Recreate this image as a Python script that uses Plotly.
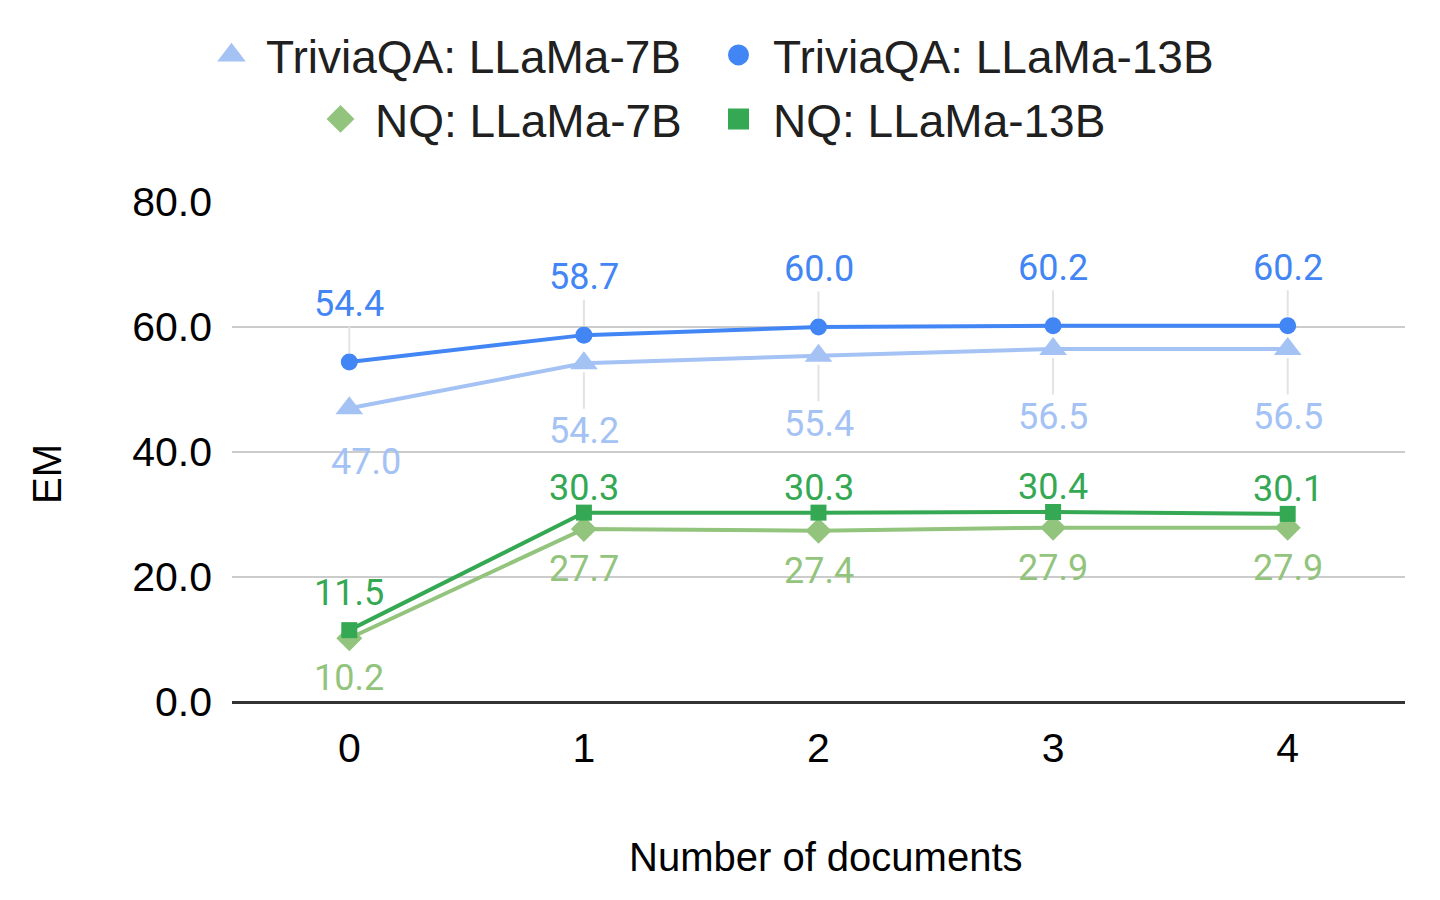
import plotly.graph_objects as go

# number of retrieved documents vs exact match
docs = [0, 1, 2, 3, 4]
trivia_7b = [47.0, 54.2, 55.4, 56.5, 56.5]
trivia_13b = [54.4, 58.7, 60.0, 60.2, 60.2]
nq_7b = [10.2, 27.7, 27.4, 27.9, 27.9]
nq_13b = [11.5, 30.3, 30.3, 30.4, 30.1]
y_ticks = [0, 20, 40, 60, 80]

SANS = "Arial, Liberation Sans, sans-serif"
LABEL_FONT = "Roboto, sans-serif"

# page body has an 8px margin, so the figure is drawn 8px smaller each way
W, H = 1424, 884
L, R, T, B = 224, 27, 194, 190

# name, values, colour, marker symbol, marker size, label dx / dy in px (dy > 0 = below), legend
series = [
    ("TriviaQA: LLaMa-7B", trivia_7b, "#a4c2f4", "triangle-up", 24,
     [17, 0, 0, 0, 0], [54, 68, 68, 68, 68], "legend"),
    ("TriviaQA: LLaMa-13B", trivia_13b, "#4285f4", "circle", 17,
     [0, 0, 0, 0, 0], [-58, -58, -58, -58, -58], "legend2"),
    ("NQ: LLaMa-7B", nq_7b, "#93c47d", "diamond", 20,
     [0, 0, 0, 0, 0], [40, 40, 40, 40, 40], "legend3"),
    ("NQ: LLaMa-13B", nq_13b, "#34a853", "square", 16,
     [0, 0, 0, 0, 0], [-37, -25, -25, -25, -25], "legend4"),
]

fig = go.Figure()
annotations = []

for name, vals, col, sym, size, dxs, dys, leg in series:
    fig.add_trace(go.Scatter(x=docs, y=vals, mode="lines+markers", name=name,
                             line=dict(color=col, width=4),
                             marker=dict(symbol=sym, size=size, color=col),
                             showlegend=False))
    # legend-only entry (marker without the line)
    fig.add_trace(go.Scatter(x=[None], y=[None], mode="markers", name=name,
                             marker=dict(symbol=sym, size=16, color=col,
                                         line=dict(color=col, width=5)),
                             legend=leg))
    for x, v, dx, dy in zip(docs, vals, dxs, dys):
        leader = dx == 0 and abs(dy) > 45
        if leader:
            annotations.append(dict(x=x, y=v, xref="x", yref="y", text=f"{v:.1f}",
                                    showarrow=True, arrowhead=0, arrowwidth=2,
                                    arrowcolor="#e3e3e3", standoff=9, ax=dx, ay=dy,
                                    font=dict(family=LABEL_FONT, size=36, color=col)))
        else:
            annotations.append(dict(x=x, y=v, xref="x", yref="y", text=f"{v:.1f}",
                                    showarrow=False, xshift=dx, yshift=-dy,
                                    font=dict(family=LABEL_FONT, size=36, color=col)))

# y axis title
annotations.append(dict(x=(39 - L) / (W - L - R), y=(H - B - 466) / (H - T - B),
                        xref="paper", yref="paper", xanchor="center", yanchor="middle",
                        text="EM", textangle=-90, showarrow=False,
                        font=dict(family=SANS, size=40, color="#000000")))
# x axis title
annotations.append(dict(x=(818 - L) / (W - L - R), y=(H - B - 849) / (H - T - B),
                        xref="paper", yref="paper", xanchor="center", yanchor="middle",
                        text="Number of documents", showarrow=False,
                        font=dict(family=SANS, size=40, color="#000000")))

legend_base = dict(xref="container", yref="container", xanchor="left", yanchor="middle",
                   font=dict(family=SANS, size=46, color="#202020"), itemwidth=59,
                   bgcolor="rgba(0,0,0,0)", borderwidth=0)

fig.update_layout(
    width=W, height=H,
    paper_bgcolor="white", plot_bgcolor="white",
    margin=dict(l=L, r=R, t=T, b=B, autoexpand=False),
    font=dict(family=SANS, color="#000000"),
    annotations=annotations,
    legend=dict(legend_base, x=189 / W, y=1 - 47 / H),
    legend2=dict(legend_base, x=696 / W, y=1 - 47 / H),
    legend3=dict(legend_base, x=298 / W, y=1 - 111 / H),
    legend4=dict(legend_base, x=696 / W, y=1 - 111 / H),
)

fig.update_xaxes(range=[-0.5, 4.5], tickvals=docs, ticktext=[str(d) for d in docs],
                 showgrid=False, zeroline=False, showline=False, ticks="",
                 tickfont=dict(size=41, color="#000000"), ticklabelstandoff=18,
                 automargin=False)
fig.update_yaxes(range=[0, 80], tickvals=y_ticks, tickformat=".1f",
                 showgrid=True, gridcolor="#cccccc", gridwidth=2,
                 zeroline=True, zerolinecolor="#333333", zerolinewidth=2.5,
                 showline=False, ticks="", automargin=False,
                 tickfont=dict(size=41, color="#000000"), ticklabelstandoff=19)

fig.write_html("out.html")
